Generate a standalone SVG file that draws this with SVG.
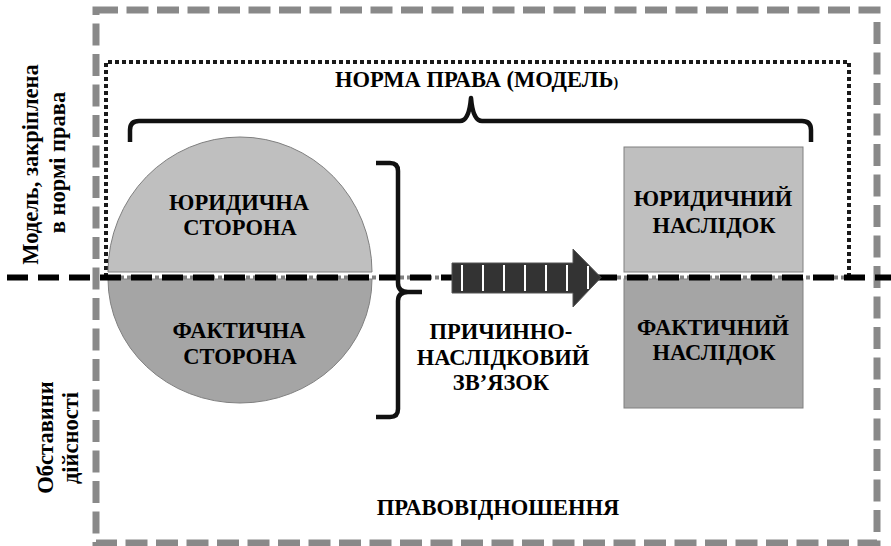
<svg xmlns="http://www.w3.org/2000/svg" width="891" height="546" viewBox="0 0 891 546">
<style>
text{font-family:"Liberation Serif","Times New Roman",serif;font-weight:bold;font-size:22.5px;fill:#000}
.c{text-anchor:middle}
.frame{fill:none;stroke:#898989;stroke-width:7;stroke-dasharray:22 8.5}
.dots{fill:none;stroke:#1a1a1a;stroke-width:4;stroke-dasharray:4 3}
.light{fill:#bfbfbf;stroke:#808080;stroke-width:1}
.dark{fill:#a5a5a5;stroke:#808080;stroke-width:1}
.brace{fill:none;stroke:#111;stroke-width:4.5;stroke-linecap:butt;stroke-linejoin:round}
.stripe{stroke:#fff;stroke-width:2}
</style>
<rect id="outer-frame" class="frame" x="96" y="10" width="781" height="533"/>
<g id="norm-frame">
<path class="dots" d="M106,277 L106,62 L849,62 L849,277"/>
<line x1="106" y1="277.5" x2="849" y2="277.5" stroke="#808080" stroke-width="4" stroke-dasharray="4 3"/>
</g>
<g id="side-circle">
<path class="light" d="M108,272 A132,135 0 0 1 372,272 Z"/>
<path class="dark" d="M108,279 A132,124 0 0 0 372,279 Z"/>
</g>
<g id="consequence-box">
<rect class="light" x="624" y="147" width="179" height="125"/>
<rect class="dark" x="624" y="279" width="179" height="129"/>
</g>
<g id="connectors">
<line x1="7" y1="277.5" x2="891" y2="277.5" stroke="#000" stroke-width="6" stroke-dasharray="21 10"/>
<path class="brace" d="M130,142 L130,130 Q130,121 139,121 L460,121 Q469,121 471,98 Q473,121 482,121 L802,121 Q811,121 811,130 L811,142"/>
<path class="brace" d="M376,163 L390,163 Q398,163 398,171 L398,283 Q398,292 408,292 L422,292 M408,292 Q398,292 398,301 L398,409 Q398,417 390,417 L376,417"/>
<g id="arrow">
<polygon points="452,263 573,263 573,249 601,277.5 573,307 573,293 452,293" fill="#333" stroke="#555" stroke-width="1"/>
<line class="stripe" x1="462" y1="265" x2="462" y2="291"/>
<line class="stripe" x1="483" y1="265" x2="483" y2="291"/>
<line class="stripe" x1="504" y1="265" x2="504" y2="291"/>
<line class="stripe" x1="525" y1="265" x2="525" y2="291"/>
<line class="stripe" x1="546" y1="265" x2="546" y2="291"/>
<line class="stripe" x1="567" y1="265" x2="567" y2="291"/>
<line class="stripe" x1="588" y1="266" x2="588" y2="289"/>
</g>
</g>
<g id="labels">
<text x="335" y="87">НОРМА ПРАВА (МОДЕЛЬ<tspan font-size="14">)</tspan></text>
<text class="c" x="239" y="210">ЮРИДИЧНА</text>
<text class="c" x="240" y="235">СТОРОНА</text>
<text class="c" x="239" y="338">ФАКТИЧНА</text>
<text class="c" x="240" y="364">СТОРОНА</text>
<text class="c" x="713" y="206">ЮРИДИЧНИЙ</text>
<text class="c" x="714" y="233">НАСЛІДОК</text>
<text class="c" x="713" y="335">ФАКТИЧНИЙ</text>
<text class="c" x="714" y="360">НАСЛІДОК</text>
<text class="c" x="501" y="339">ПРИЧИННО-</text>
<text class="c" x="503" y="365">НАСЛІДКОВИЙ</text>
<text class="c" x="501" y="390">ЗВ’ЯЗОК</text>
<text class="c" x="498" y="515">ПРАВОВІДНОШЕННЯ</text>
<text class="c" transform="translate(38,164.5) rotate(-90)">Модель, закріплена</text>
<text class="c" transform="translate(65,162.5) rotate(-90)">в нормі права</text>
<text class="c" transform="translate(53,437.5) rotate(-90)">Обставини</text>
<text class="c" transform="translate(78,438) rotate(-90)">дійсності</text>
</g>
</svg>
